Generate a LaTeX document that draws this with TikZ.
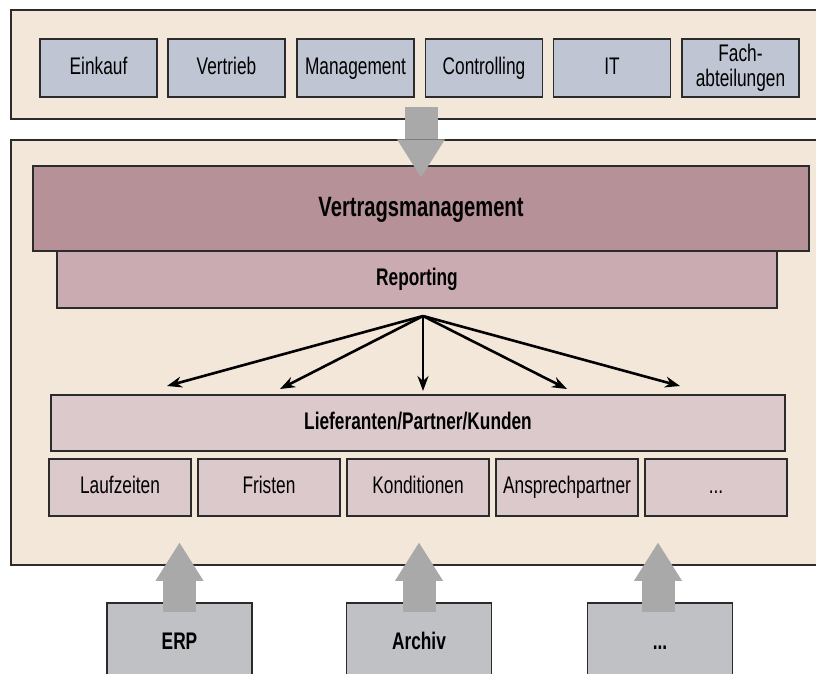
\documentclass[tikz,border=0pt]{standalone}
\usepackage{fontspec}
\setmainfont{Liberation Sans}[FakeStretch=0.72]
\usepackage{xcolor}
\definecolor{panelbg}{HTML}{F3E7D9}
\definecolor{unitbg}{HTML}{C0C5D4}
\definecolor{vmbg}{HTML}{B69198}
\definecolor{repbg}{HTML}{C9ABB1}
\definecolor{databg}{HTML}{DCC9CC}
\definecolor{srcbg}{HTML}{BFC1C5}
\definecolor{arrowgray}{HTML}{A9A9A9}
\definecolor{edge}{HTML}{2B2B2B}
\usepackage{tikz}
\usetikzlibrary{arrows.meta, positioning, calc}
\tikzset{%
    panel/.style={%
        draw=edge, fill=panelbg, line width=1.5pt
    },
    box/.style={%
        draw=edge, line width=1.3pt, align=center,
        text height=17pt, text depth=4.5pt,
        font=\fontsize{24}{25}\selectfont,
    },
    unit/.style={%
        box, fill=unitbg, minimum width=117pt, minimum height=58pt,
    },
    field/.style={%
        box, fill=databg, minimum width=142pt, minimum height=57pt,
    },
    source/.style={%
        box, fill=srcbg, minimum width=145pt, minimum height=80pt,
        font=\fontsize{24}{25}\selectfont\bfseries,
    }
}

\begin{document}
\begin{tikzpicture}[
        x=1pt, y=-1pt,
        every node/.style={inner sep=0},
        bigarrow/.style={draw=arrowgray, line width=33pt, -{Triangle[length=38pt, width=48pt, line width=0pt]}},
        fanarrow/.style={line width=2.6pt, -{Stealth[length=15pt, width=11pt]}},
    ]
        \def\toprow{68}
        \def\fieldrow{487.5}
        \useasboundingbox (0,0) rectangle (816,673);

        % the two panels (right edge runs off the page)
        \node[panel, minimum width=819pt, minimum height=109pt] (toppanel) at (420.5,64.5) {};
        \node[panel, minimum width=819pt, minimum height=425pt] (mainpanel) at (420.5,352.5) {};

        % departments
        \node[unit] (einkauf) at (98.5,\toprow) {Einkauf};
        \node[unit] (vertrieb) at (226.5,\toprow) {Vertrieb};
        \node[unit] (management) at (355.5,\toprow) {Management};
        \node[unit] (controlling) at (484,\toprow) {Controlling};
        \node[unit] (it) at (612,\toprow) {IT};
        \node[unit, text height=, text depth=] (fach) at (740.5,\toprow) {Fach-\\abteilungen};

        \node[box, fill=vmbg, minimum width=776pt, minimum height=85pt, text height=20pt, text depth=5pt, font=\fontsize{28}{30}\selectfont\bfseries] (vertrag) at (421,208.5) {Vertragsmanagement};
        \node[box, fill=repbg, minimum width=720pt, minimum height=57pt, font=\fontsize{24}{25}\selectfont\bfseries] (reporting) at (417,279.5) {Reporting};

        \node[box, fill=databg, minimum width=734pt, minimum height=56pt, font=\fontsize{24}{25}\selectfont\bfseries] (partner) at (418,423) {Lieferanten/Partner/Kunden};
        \node[field] (laufzeiten) at (120,\fieldrow) {Laufzeiten};
        \node[field] (fristen) at (269,\fieldrow) {Fristen};
        \node[field] (konditionen) at (418,\fieldrow) {Konditionen};
        \node[field] (ansprech) at (567,\fieldrow) {Ansprechpartner};
        \node[field] (fieldmore) at (716,\fieldrow) {...};

        % data sources below
        \node[source] (erp) at (179.5,643) {ERP};
        \node[source] (archiv) at (419,643) {Archiv};
        \node[source] (srcmore) at (660,643) {...};

        % fan out from reporting
        \coordinate (hub) at (423,316);
        \coordinate (tipA) at (167,386);
        \coordinate (tipB) at (280,389);
        \coordinate (tipC) at (423,391);
        \coordinate (tipD) at (567,389);
        \coordinate (tipE) at (680,386);
        \foreach \t in {tipA,tipB,tipC,tipD,tipE}
            \draw[fanarrow] (hub) to (\t);

        \draw[bigarrow] ($(vertrag.north |- toppanel.south)+(0,-13)$) to ($(vertrag.north)+(0,12)$);
        \draw[bigarrow] ($(erp.north)+(0,10)$) to ($(erp.north |- mainpanel.south)+(0,-23)$);
        \draw[bigarrow] ($(archiv.north)+(0,10)$) to ($(archiv.north |- mainpanel.south)+(0,-23)$);
        \draw[bigarrow] ($(srcmore.north)+(-2,10)$) to ($(srcmore.north |- mainpanel.south)+(-2,-23)$);

    \end{tikzpicture}
\end{document}
